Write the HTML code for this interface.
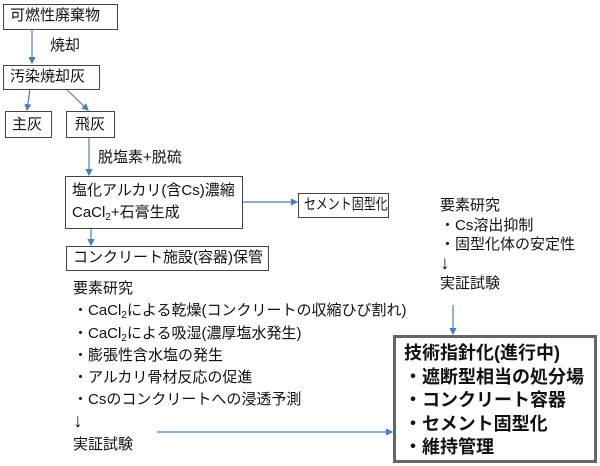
<!DOCTYPE html>
<html><head><meta charset="utf-8"><style>
body{margin:0;width:600px;height:466px;background:#fff;position:relative;overflow:hidden;font-family:"Liberation Sans","Noto Sans CJK JP",sans-serif;color:#111}
.b{position:absolute;border:1px solid #444;box-sizing:border-box;font-size:15px;line-height:22px;padding-left:6px;white-space:nowrap}
.t{position:absolute;font-size:15px;white-space:nowrap;line-height:20px}
svg{position:absolute;left:0;top:0}
sub{font-size:10px;vertical-align:-3px;line-height:0}
.ar{font-size:19px;font-weight:bold;line-height:0}
</style></head><body>
<svg width="600" height="466">
<defs><marker id="a" markerWidth="6" markerHeight="6" refX="5" refY="3" orient="auto"><path d="M0,0L6,3L0,6z" fill="#4a7ebb"/></marker></defs>
<g stroke="#4a7ebb" stroke-width="1.2" fill="none">
<line x1="32" y1="29" x2="32" y2="63" marker-end="url(#a)"/>
<line x1="30" y1="89" x2="27" y2="110" marker-end="url(#a)"/>
<line x1="66" y1="89" x2="88" y2="110" marker-end="url(#a)"/>
<line x1="89" y1="137" x2="89" y2="175" marker-end="url(#a)"/>
<line x1="91" y1="228" x2="91" y2="245" marker-end="url(#a)"/>
<line x1="243" y1="202" x2="297" y2="202" marker-end="url(#a)"/>
<line x1="453" y1="305" x2="453" y2="334" marker-end="url(#a)"/>
<line x1="157" y1="432" x2="392" y2="432" marker-end="url(#a)"/>
</g></svg>
<div class="b" style="left:3px;top:4px;width:115px;height:26px">可燃性廃棄物</div>
<div class="t" style="left:50px;top:36px">焼却</div>
<div class="b" style="left:3px;top:65px;width:97px;height:25px">汚染焼却灰</div>
<div class="b" style="left:5px;top:111px;width:47px;height:27px;line-height:25px">主灰</div>
<div class="b" style="left:66px;top:111px;width:49px;height:27px;line-height:25px;padding-left:8px">飛灰</div>
<div class="t" style="left:98px;top:148px">脱塩素+脱硫</div>
<div class="b" style="left:65px;top:176px;width:178px;height:53px;padding-top:3px;line-height:22px">塩化アルカリ(含Cs)濃縮<br>CaCl<sub>2</sub>+石膏生成</div>
<div class="b" style="left:66px;top:246px;width:203px;height:25px">コンクリート施設(容器)保管</div>
<div class="b" style="left:298px;top:193px;width:91px;height:25px;padding-left:5px;overflow:hidden"><span style="display:inline-block;transform:scaleX(0.8);transform-origin:left center">セメント固型化</span></div>
<div class="t" style="left:73px;top:278px;line-height:22.3px">要素研究<br>・CaCl<sub>2</sub>による乾燥(コンクリートの収縮ひび割れ)<br>・CaCl<sub>2</sub>による吸湿(濃厚塩水発生)<br>・膨張性含水塩の発生<br>・アルカリ骨材反応の促進<br>・Csのコンクリートへの浸透予測<br><span class="ar">↓</span><br>実証試験</div>
<div class="t" style="left:440px;top:196px;line-height:19.5px">要素研究<br>・Cs溶出抑制<br>・固型化体の安定性<br><span class="ar">↓</span><br>実証試験</div>
<div style="position:absolute;left:393px;top:335px;width:204px;height:128px;border:3px solid #666;box-sizing:border-box;padding:4px 0 0 8px;font-size:18px;font-weight:bold;line-height:23.5px;white-space:nowrap">技術指針化(進行中)<br>・遮断型相当の処分場<br>・コンクリート容器<br>・セメント固型化<br>・維持管理</div>
</body></html>
